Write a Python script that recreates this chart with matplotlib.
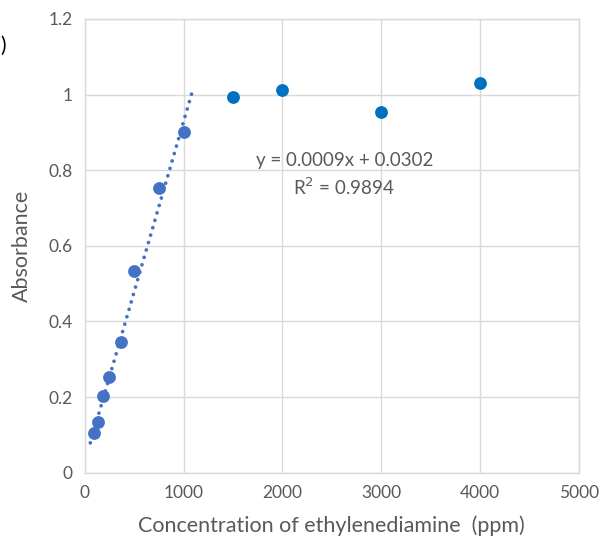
import matplotlib
matplotlib.use("Agg")
import matplotlib.pyplot as plt
import numpy as np

plt.rcParams['font.family'] = ['Lato', 'DejaVu Sans']

# Calibration points (linear region) and saturated points
conc_linear = [90, 130, 180, 245, 365, 500, 750, 1000]
abs_linear = [0.105, 0.135, 0.204, 0.254, 0.345, 0.533, 0.752, 0.900]
conc_high = [1500, 2000, 3000, 4000]
abs_high = [0.993, 1.012, 0.954, 1.030]

# Linear trendline as reported on the chart
slope = 0.0009
intercept = 0.0302
r_squared = 0.9894
trend_range = [54, 1090]

x_ticks = [0, 1000, 2000, 3000, 4000, 5000]
y_ticks = [0, 0.2, 0.4, 0.6, 0.8, 1.0, 1.2]
y_tick_labels = ['0', '0.2', '0.4', '0.6', '0.8', '1', '1.2']

fig = plt.figure(figsize=(6.01, 5.41), dpi=100)
ax = fig.add_axes([0.1414, 0.1263, 0.8216, 0.8386])

grey_text = '#595959'
grid_col = '#D9D9D9'

tx = np.array(trend_range)
ax.plot(tx, slope * tx + intercept, linestyle=(0, (0.01, 2.05)), color='#4472C4',
        linewidth=2.7, dash_capstyle='round', zorder=2)

ax.scatter(conc_linear, abs_linear, s=85, color='#4472C4', zorder=3, linewidths=0)
ax.scatter(conc_high, abs_high, s=85, color='#0070C0', zorder=3, linewidths=0)

ax.set_xlim(0, 5000)
ax.set_ylim(0, 1.2)
ax.set_xticks(x_ticks)
ax.set_yticks(y_ticks)
ax.set_yticklabels(y_tick_labels)
ax.tick_params(length=0, labelsize=12.5, colors=grey_text, pad=9)
ax.grid(True, color=grid_col, linewidth=1)
ax.set_axisbelow(True)
for sp in ax.spines.values():
    sp.set_color(grid_col)
    sp.set_linewidth(1)

ax.set_xlabel('Concentration of ethylenediamine  (ppm)', fontsize=15.5, color=grey_text, labelpad=10)
ax.set_ylabel('Absorbance', fontsize=15.5, color=grey_text, labelpad=12)

ax.text(2625, 0.825, f'y = {slope}x + {intercept}', ha='center', va='center',
        fontsize=13.5, color=grey_text)
ax.text(2625, 0.755, f'R$^2$ = {r_squared}', ha='center', va='center',
        fontsize=13.5, color=grey_text)

fig.text(0.0, 0.915, ')', fontsize=15, color='black', ha='left', va='center')

fig.savefig('out.png', dpi=100)
